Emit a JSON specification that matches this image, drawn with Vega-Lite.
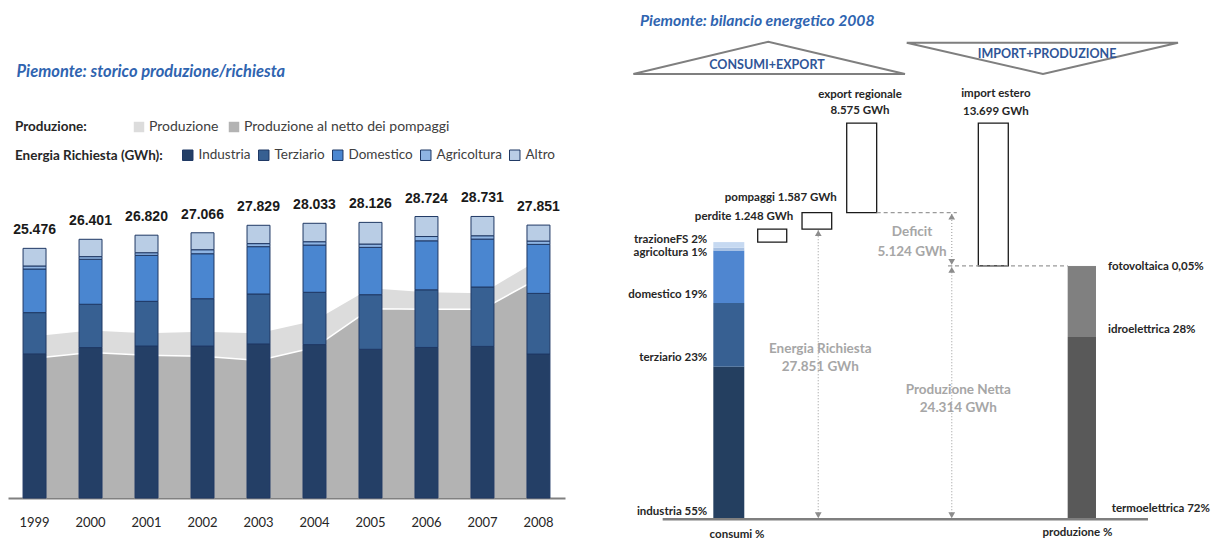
{
  "$schema": "https://vega.github.io/schema/vega-lite/v6.json",
  "background": "white",
  "padding": {"left": 8, "top": 0, "right": 0, "bottom": 0},
  "spacing": 55,
  "bounds": "flush",
  "config": {"view": {"stroke": null}, "font": "Lato"},
  "datasets": {
    "bars": [
      {"year": "1999", "cat": "Industria", "ord": 1, "v": 14706}, {"year": "1999", "cat": "Terziario", "ord": 2, "v": 4210}, {"year": "1999", "cat": "Domestico", "ord": 3, "v": 4450}, {"year": "1999", "cat": "Agricoltura", "ord": 4, "v": 310}, {"year": "1999", "cat": "Altro", "ord": 5, "v": 1800},
      {"year": "2000", "cat": "Industria", "ord": 1, "v": 15351}, {"year": "2000", "cat": "Terziario", "ord": 2, "v": 4420}, {"year": "2000", "cat": "Domestico", "ord": 3, "v": 4590}, {"year": "2000", "cat": "Agricoltura", "ord": 4, "v": 270}, {"year": "2000", "cat": "Altro", "ord": 5, "v": 1770},
      {"year": "2001", "cat": "Industria", "ord": 1, "v": 15510}, {"year": "2001", "cat": "Terziario", "ord": 2, "v": 4560}, {"year": "2001", "cat": "Domestico", "ord": 3, "v": 4690}, {"year": "2001", "cat": "Agricoltura", "ord": 4, "v": 270}, {"year": "2001", "cat": "Altro", "ord": 5, "v": 1790},
      {"year": "2002", "cat": "Industria", "ord": 1, "v": 15506}, {"year": "2002", "cat": "Terziario", "ord": 2, "v": 4830}, {"year": "2002", "cat": "Domestico", "ord": 3, "v": 4590}, {"year": "2002", "cat": "Agricoltura", "ord": 4, "v": 410}, {"year": "2002", "cat": "Altro", "ord": 5, "v": 1730},
      {"year": "2003", "cat": "Industria", "ord": 1, "v": 15719}, {"year": "2003", "cat": "Terziario", "ord": 2, "v": 5100}, {"year": "2003", "cat": "Domestico", "ord": 3, "v": 4830}, {"year": "2003", "cat": "Agricoltura", "ord": 4, "v": 310}, {"year": "2003", "cat": "Altro", "ord": 5, "v": 1870},
      {"year": "2004", "cat": "Industria", "ord": 1, "v": 15653}, {"year": "2004", "cat": "Terziario", "ord": 2, "v": 5340}, {"year": "2004", "cat": "Domestico", "ord": 3, "v": 4820}, {"year": "2004", "cat": "Agricoltura", "ord": 4, "v": 340}, {"year": "2004", "cat": "Altro", "ord": 5, "v": 1880},
      {"year": "2005", "cat": "Industria", "ord": 1, "v": 15176}, {"year": "2005", "cat": "Terziario", "ord": 2, "v": 5570}, {"year": "2005", "cat": "Domestico", "ord": 3, "v": 4830}, {"year": "2005", "cat": "Agricoltura", "ord": 4, "v": 340}, {"year": "2005", "cat": "Altro", "ord": 5, "v": 2210},
      {"year": "2006", "cat": "Industria", "ord": 1, "v": 15364}, {"year": "2006", "cat": "Terziario", "ord": 2, "v": 5880}, {"year": "2006", "cat": "Domestico", "ord": 3, "v": 5000}, {"year": "2006", "cat": "Agricoltura", "ord": 4, "v": 440}, {"year": "2006", "cat": "Altro", "ord": 5, "v": 2040},
      {"year": "2007", "cat": "Industria", "ord": 1, "v": 15471}, {"year": "2007", "cat": "Terziario", "ord": 2, "v": 6060}, {"year": "2007", "cat": "Domestico", "ord": 3, "v": 4890}, {"year": "2007", "cat": "Agricoltura", "ord": 4, "v": 340}, {"year": "2007", "cat": "Altro", "ord": 5, "v": 1970},
      {"year": "2008", "cat": "Industria", "ord": 1, "v": 14691}, {"year": "2008", "cat": "Terziario", "ord": 2, "v": 6190}, {"year": "2008", "cat": "Domestico", "ord": 3, "v": 5000}, {"year": "2008", "cat": "Agricoltura", "ord": 4, "v": 340}, {"year": "2008", "cat": "Altro", "ord": 5, "v": 1630}
    ],
    "totals": [
      {"year": "1999", "total": 25476, "label": "25.476"}, {"year": "2000", "total": 26401, "label": "26.401"},
      {"year": "2001", "total": 26820, "label": "26.820"}, {"year": "2002", "total": 27066, "label": "27.066"},
      {"year": "2003", "total": 27829, "label": "27.829"}, {"year": "2004", "total": 28033, "label": "28.033"},
      {"year": "2005", "total": 28126, "label": "28.126"}, {"year": "2006", "total": 28724, "label": "28.724"},
      {"year": "2007", "total": 28731, "label": "28.731"}, {"year": "2008", "total": 27851, "label": "27.851"}
    ],
    "prod": [
      {"year": "1999", "series": "Produzione", "v": 16500}, {"year": "2000", "series": "Produzione", "v": 17100},
      {"year": "2001", "series": "Produzione", "v": 16800}, {"year": "2002", "series": "Produzione", "v": 16970},
      {"year": "2003", "series": "Produzione", "v": 16800}, {"year": "2004", "series": "Produzione", "v": 18100},
      {"year": "2005", "series": "Produzione", "v": 21400}, {"year": "2006", "series": "Produzione", "v": 21000},
      {"year": "2007", "series": "Produzione", "v": 20900}, {"year": "2008", "series": "Produzione", "v": 24300},
      {"year": "1999", "series": "Produzione al netto dei pompaggi", "v": 14270}, {"year": "2000", "series": "Produzione al netto dei pompaggi", "v": 14850},
      {"year": "2001", "series": "Produzione al netto dei pompaggi", "v": 14580}, {"year": "2002", "series": "Produzione al netto dei pompaggi", "v": 14470},
      {"year": "2003", "series": "Produzione al netto dei pompaggi", "v": 14040}, {"year": "2004", "series": "Produzione al netto dei pompaggi", "v": 15350},
      {"year": "2005", "series": "Produzione al netto dei pompaggi", "v": 19300}, {"year": "2006", "series": "Produzione al netto dei pompaggi", "v": 19270},
      {"year": "2007", "series": "Produzione al netto dei pompaggi", "v": 19270}, {"year": "2008", "series": "Produzione al netto dei pompaggi", "v": 22400}
    ]
  },
  "hconcat": [
    {
      "width": 557,
      "height": 498,
      "layer": [
        {
          "data": {"name": "prod"},
          "transform": [{"filter": "datum.series === 'Produzione'"}],
          "mark": {"type": "area", "opacity": 1},
          "encoding": {
            "x": {"field": "year", "type": "nominal", "title": null, "scale": {"paddingInner": 0.59, "paddingOuter": 0.269},
              "axis": {"labelFont": "Lato", "labelFontSize": 13, "labelColor": "#262626", "ticks": false, "domainColor": "#808080", "domainWidth": 2, "labelPadding": 18, "labelAngle": 0}},
            "y": {"field": "v", "type": "quantitative", "stack": null, "scale": {"domain": [0, 50820], "nice": false}, "axis": null},
            "color": {"field": "series", "type": "nominal",
              "scale": {"domain": ["Produzione", "Produzione al netto dei pompaggi"], "range": ["#DCDCDC", "#B3B3B3"]},
              "legend": {"title": "Produzione:", "orient": "none", "legendX": 7, "legendY": 120, "direction": "horizontal", "titleOrient": "left",
                "titleFont": "Lato", "titleFontSize": 13.5, "titleFontWeight": "bold", "titleColor": "#262626", "titlePadding": 45,
                "labelFont": "Lato", "labelFontSize": 14, "labelColor": "#404040", "labelLimit": 400, "symbolType": "square", "symbolSize": 110, "symbolStrokeWidth": 0, "columnPadding": 8, "labelOffset": 3}}
          }
        },
        {
          "data": {"name": "prod"},
          "transform": [{"filter": "datum.series !== 'Produzione'"}],
          "mark": {"type": "area", "opacity": 1},
          "encoding": {
            "x": {"field": "year", "type": "nominal"},
            "y": {"field": "v", "type": "quantitative", "stack": null},
            "color": {"field": "series", "type": "nominal"}
          }
        },
        {
          "data": {"name": "prod"},
          "transform": [{"filter": "datum.series !== 'Produzione'"}],
          "mark": {"type": "line", "color": "white", "strokeWidth": 1.5},
          "encoding": {
            "x": {"field": "year", "type": "nominal"},
            "y": {"field": "v", "type": "quantitative", "stack": null}
          }
        },
        {
          "data": {"name": "bars"},
          "mark": {"type": "bar", "stroke": "#1F3864", "strokeWidth": 1},
          "encoding": {
            "x": {"field": "year", "type": "nominal"},
            "y": {"field": "v", "type": "quantitative", "stack": "zero"},
            "fill": {"field": "cat", "type": "nominal",
              "scale": {"domain": ["Industria", "Terziario", "Domestico", "Agricoltura", "Altro"], "range": ["#243F66", "#376092", "#4A86D0", "#8EB4E3", "#B9CDE5"]},
              "legend": {"title": "Energia Richiesta (GWh):", "orient": "none", "legendX": 7, "legendY": 148.5, "direction": "horizontal", "titleOrient": "left",
                "titleFont": "Lato", "titleFontSize": 13.5, "titleFontWeight": "bold", "titleColor": "#262626", "titlePadding": 18,
                "labelFont": "Lato", "labelFontSize": 13.5, "labelColor": "#404040", "labelLimit": 400, "symbolType": "square", "symbolSize": 110, "symbolStrokeColor": "#1F3864", "symbolStrokeWidth": 1, "columnPadding": 5, "labelOffset": 4}},
            "order": {"field": "ord", "type": "quantitative"}
          }
        },
        {
          "data": {"name": "totals"},
          "mark": {"type": "text", "font": "Liberation Sans", "fontWeight": "bold", "fontSize": 14, "color": "#1A1A1A", "dy": -18, "baseline": "middle"},
          "encoding": {
            "x": {"field": "year", "type": "nominal"},
            "y": {"field": "total", "type": "quantitative"},
            "text": {"field": "label"}
          }
        },
        {
          "data": {"values": [{"t": "Piemonte: storico produzione/richiesta", "year": "1999", "v": 43500}]},
          "mark": {"type": "text", "align": "left", "baseline": "middle", "dx": -18, "font": "Lato", "fontStyle": "italic", "fontWeight": "bold", "fontSize": 16.5, "color": "#2F64B0"},
          "encoding": {
            "x": {"field": "year", "type": "nominal"},
            "y": {"field": "v", "type": "quantitative"},
            "text": {"field": "t"}
          }
        }
      ]
    },
    {
      "width": 591,
      "height": 540,
      "encoding": {
        "x": {"field": "u", "type": "quantitative", "scale": {"domain": [0, 100], "nice": false, "zero": false}, "axis": null},
        "y": {"field": "v", "type": "quantitative", "scale": {"domain": [-1.99, 49.84], "nice": false, "zero": false}, "axis": null}
      },
      "layer": [
        {
          "data": {"values": [
            {"tri": "a", "o": 1, "u": 2.25, "v": 42.74}, {"tri": "a", "o": 2, "u": 25.09, "v": 45.84}, {"tri": "a", "o": 3, "u": 48.22, "v": 42.74}, {"tri": "a", "o": 4, "u": 2.25, "v": 42.74},
            {"tri": "b", "o": 1, "u": 48.51, "v": 45.74}, {"tri": "b", "o": 2, "u": 94.42, "v": 45.74}, {"tri": "b", "o": 3, "u": 71.57, "v": 42.74}, {"tri": "b", "o": 4, "u": 48.51, "v": 45.74}
          ]},
          "mark": {"type": "line", "color": "#7F7F7F", "strokeWidth": 2},
          "encoding": {
            "detail": {"field": "tri"},
            "order": {"field": "o", "type": "quantitative"}
          }
        },
        {
          "data": {"values": [
            {"part": "industria", "u": 15.79, "u2": 21.03, "v": 0, "v2": 14.632},
            {"part": "terziario", "u": 15.79, "u2": 21.03, "v": 14.632, "v2": 20.751},
            {"part": "domestico", "u": 15.79, "u2": 21.03, "v": 20.751, "v2": 25.805},
            {"part": "agricoltura", "u": 15.79, "u2": 21.03, "v": 25.805, "v2": 26.071},
            {"part": "trazioneFS", "u": 15.79, "u2": 21.03, "v": 26.071, "v2": 26.603},
            {"part": "termoelettrica", "u": 75.75, "u2": 80.54, "v": 0, "v2": 17.506},
            {"part": "idroelettrica", "u": 75.75, "u2": 80.54, "v": 17.506, "v2": 24.302},
            {"part": "fotovoltaica", "u": 75.75, "u2": 80.54, "v": 24.302, "v2": 24.314}
          ]},
          "mark": {"type": "rect"},
          "encoding": {
            "x2": {"field": "u2"},
            "y2": {"field": "v2"},
            "fill": {"field": "part", "type": "nominal", "legend": null,
              "scale": {"domain": ["industria", "terziario", "domestico", "agricoltura", "trazioneFS", "termoelettrica", "idroelettrica", "fotovoltaica"],
                "range": ["#243F60", "#376092", "#4F86D0", "#A7C0E2", "#C6D9F1", "#595959", "#808080", "#A6A6A6"]}}
          }
        },
        {
          "data": {"values": [
            {"box": "perdite", "u": 23.30, "u2": 28.21, "v": 26.603, "v2": 27.851},
            {"box": "pompaggi", "u": 30.80, "u2": 35.82, "v": 27.851, "v2": 29.438},
            {"box": "export", "u": 38.36, "u2": 43.43, "v": 29.438, "v2": 38.013},
            {"box": "import", "u": 60.63, "u2": 65.70, "v": 24.314, "v2": 38.013}
          ]},
          "mark": {"type": "rect", "fill": "white", "stroke": "#1A1A1A", "strokeWidth": 1.3},
          "encoding": {
            "x2": {"field": "u2"},
            "y2": {"field": "v2"}
          }
        },
        {
          "data": {"values": [
            {"u": 43.43, "u2": 56.99, "v": 29.438},
            {"u": 55.5, "u2": 75.75, "v": 24.314}
          ]},
          "mark": {"type": "rule", "color": "#9A9A9A", "strokeWidth": 1.2, "strokeDash": [4, 3]},
          "encoding": {
            "x2": {"field": "u2"}
          }
        },
        {
          "data": {"values": [
            {"u": 33.55, "v": 0, "v2": 27.851},
            {"u": 56.13, "v": 0, "v2": 24.314},
            {"u": 56.13, "v": 24.314, "v2": 29.438}
          ]},
          "mark": {"type": "rule", "color": "#B0B0B0", "strokeWidth": 1.3, "strokeDash": [1, 2]},
          "encoding": {
            "y2": {"field": "v2"}
          }
        },
        {
          "data": {"values": [
            {"u": 33.55, "v": 27.851}, {"u": 56.13, "v": 24.314}, {"u": 56.13, "v": 29.438}
          ]},
          "mark": {"type": "point", "shape": "triangle-up", "filled": true, "color": "#8C8C8C", "size": 45, "opacity": 1, "yOffset": 4}
        },
        {
          "data": {"values": [
            {"u": 33.55, "v": 0}, {"u": 56.13, "v": 0}, {"u": 56.13, "v": 24.314}
          ]},
          "mark": {"type": "point", "shape": "triangle-down", "filled": true, "color": "#8C8C8C", "size": 45, "opacity": 1, "yOffset": -4}
        },
        {
          "data": {"values": [{"u": 7.22, "u2": 89.34, "v": 0}]},
          "mark": {"type": "rule", "color": "#7F7F7F", "strokeWidth": 2.5},
          "encoding": {
            "x2": {"field": "u2"}
          }
        },
        {
          "data": {"values": [{"t": "Piemonte: bilancio energetico 2008", "u": 3.38, "v": 47.85}]},
          "mark": {"type": "text", "align": "left", "baseline": "middle", "font": "Lato", "fontStyle": "italic", "fontWeight": "bold", "fontSize": 15.7, "color": "#2F64B0"},
          "encoding": {"text": {"field": "t"}}
        },
        {
          "data": {"values": [
            {"t": "CONSUMI+EXPORT", "u": 24.87, "v": 43.6},
            {"t": "IMPORT+PRODUZIONE", "u": 72.25, "v": 44.63}
          ]},
          "mark": {"type": "text", "align": "center", "baseline": "middle", "font": "Lato", "fontWeight": "bold", "fontSize": 12.5, "color": "#2F5597"},
          "encoding": {"text": {"field": "t"}}
        },
        {
          "data": {"values": [
            {"t": "export regionale", "u": 40.61, "v": 40.72},
            {"t": "8.575 GWh", "u": 40.61, "v": 39.19},
            {"t": "import estero", "u": 63.59, "v": 40.79},
            {"t": "13.699 GWh", "u": 63.59, "v": 39.12},
            {"t": "consumi %", "u": 19.8, "v": -1.51},
            {"t": "produzione %", "u": 77.41, "v": -1.34}
          ]},
          "mark": {"type": "text", "align": "center", "baseline": "middle", "font": "Lato", "fontWeight": "bold", "fontSize": 11.5, "color": "#262626"},
          "encoding": {"text": {"field": "t"}}
        },
        {
          "data": {"values": [
            {"t": "pompaggi 1.587 GWh", "u": 36.67, "v": 30.84},
            {"t": "perdite 1.248 GWh", "u": 29.32, "v": 29.04},
            {"t": "trazioneFS 2%", "u": 14.77, "v": 26.8},
            {"t": "agricoltura 1%", "u": 14.77, "v": 25.54},
            {"t": "domestico 19%", "u": 14.77, "v": 21.5},
            {"t": "terziario 23%", "u": 14.77, "v": 15.48},
            {"t": "industria 55%", "u": 14.77, "v": 0.7}
          ]},
          "mark": {"type": "text", "align": "right", "baseline": "middle", "font": "Lato", "fontWeight": "bold", "fontSize": 11.5, "color": "#262626"},
          "encoding": {"text": {"field": "t"}}
        },
        {
          "data": {"values": [
            {"t": "fotovoltaica 0,05%", "u": 82.57, "v": 24.18},
            {"t": "idroelettrica 28%", "u": 82.57, "v": 18.17},
            {"t": "termoelettrica 72%", "u": 83.2, "v": 0.96}
          ]},
          "mark": {"type": "text", "align": "left", "baseline": "middle", "font": "Lato", "fontWeight": "bold", "fontSize": 11.5, "color": "#262626"},
          "encoding": {"text": {"field": "t"}}
        },
        {
          "data": {"values": [
            {"t": "Deficit", "u": 49.41, "v": 27.57},
            {"t": "5.124 GWh", "u": 49.41, "v": 25.66},
            {"t": "Energia Richiesta", "u": 33.89, "v": 16.34},
            {"t": "27.851 GWh", "u": 33.89, "v": 14.65},
            {"t": "Produzione Netta", "u": 57.24, "v": 12.41},
            {"t": "24.314 GWh", "u": 57.24, "v": 10.65}
          ]},
          "mark": {"type": "text", "align": "center", "baseline": "middle", "font": "Lato", "fontWeight": "bold", "fontSize": 13.5, "color": "#A6A6A6"},
          "encoding": {"text": {"field": "t"}}
        }
      ]
    }
  ],
  "resolve": {
    "scale": {"x": "independent", "y": "independent", "color": "independent", "fill": "independent"},
    "legend": {"color": "independent", "fill": "independent"}
  }
}
